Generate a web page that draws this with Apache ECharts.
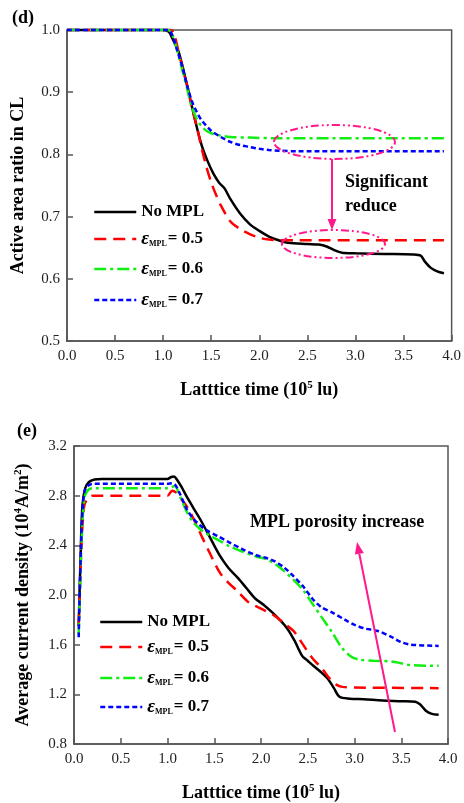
<!DOCTYPE html>
<html>
<head>
<meta charset="utf-8">
<script src="https://cdn.jsdelivr.net/npm/echarts@6/dist/echarts.min.js"></script>
<style>html,body{margin:0;padding:0;background:#fff;}#c{width:464px;height:803px;}</style>
</head>
<body>
<div id="c"></div>
<script>
// ---------- DATA ----------
var seriesNames = ['No MPL', 'e0.5', 'e0.6', 'e0.7'];
var xTicks = [0, 0.5, 1, 1.5, 2, 2.5, 3, 3.5, 4];
var dYTicks = [0.5, 0.6, 0.7, 0.8, 0.9, 1.0];
var eYTicks = [0.8, 1.2, 1.6, 2.0, 2.4, 2.8, 3.2];

// Panel (d): Active area ratio in CL
var dNoMplX = [0, 1.0, 1.06, 1.1, 1.16, 1.22, 1.28, 1.34, 1.4, 1.46, 1.52, 1.58, 1.64, 1.7, 1.8, 1.9, 2.0, 2.1, 2.2, 2.3, 2.5, 2.62, 2.7, 2.78, 2.86, 3.0, 3.3, 3.6, 3.68, 3.72, 3.78, 3.85, 3.92];
var dNoMplY = [1.0, 1.0, 0.997, 0.985, 0.965, 0.93, 0.89, 0.85, 0.815, 0.79, 0.77, 0.755, 0.745, 0.728, 0.705, 0.688, 0.677, 0.668, 0.662, 0.658, 0.656, 0.655, 0.652, 0.646, 0.642, 0.641, 0.640, 0.639, 0.637, 0.628, 0.618, 0.612, 0.609];
var dE05X = [0, 1.08, 1.12, 1.16, 1.2, 1.25, 1.3, 1.35, 1.4, 1.45, 1.5, 1.55, 1.6, 1.7, 1.8, 1.9, 2.0, 2.1, 2.2, 2.4, 3.92];
var dE05Y = [1.0, 1.0, 0.99, 0.965, 0.94, 0.91, 0.875, 0.845, 0.81, 0.78, 0.755, 0.735, 0.718, 0.692, 0.68, 0.672, 0.666, 0.663, 0.662, 0.662, 0.662];
var dE06X = [0, 1.05, 1.1, 1.15, 1.2, 1.25, 1.3, 1.35, 1.4, 1.45, 1.5, 1.6, 1.7, 1.9, 2.2, 3.92];
var dE06Y = [1.0, 1.0, 0.99, 0.965, 0.935, 0.905, 0.875, 0.857, 0.845, 0.838, 0.834, 0.830, 0.828, 0.827, 0.826, 0.826];
var dE07X = [0, 1.05, 1.1, 1.15, 1.2, 1.25, 1.3, 1.35, 1.4, 1.5, 1.6, 1.7, 1.8, 1.9, 2.0, 2.1, 2.2, 2.4, 3.92];
var dE07Y = [1.0, 1.0, 0.99, 0.965, 0.94, 0.91, 0.885, 0.868, 0.855, 0.838, 0.828, 0.82, 0.815, 0.812, 0.809, 0.807, 0.806, 0.805, 0.805];

// Panel (e): Average current density
var eNoMplX = [0.05, 0.07, 0.09, 0.12, 0.16, 0.22, 0.3, 0.6, 1.0, 1.04, 1.07, 1.1, 1.15, 1.2, 1.27, 1.35, 1.45, 1.55, 1.65, 1.75, 1.85, 1.94, 2.03, 2.12, 2.2, 2.28, 2.36, 2.44, 2.5, 2.56, 2.64, 2.72, 2.78, 2.84, 2.95, 3.1, 3.3, 3.5, 3.65, 3.7, 3.76, 3.82, 3.9];
var eNoMplY = [1.75, 2.3, 2.72, 2.86, 2.91, 2.93, 2.935, 2.935, 2.935, 2.95, 2.955, 2.93, 2.87, 2.8, 2.71, 2.61, 2.47, 2.33, 2.22, 2.14, 2.05, 1.97, 1.92, 1.86, 1.8, 1.73, 1.63, 1.51, 1.47, 1.43, 1.38, 1.32, 1.25, 1.18, 1.165, 1.16, 1.15, 1.145, 1.14, 1.12, 1.07, 1.045, 1.035];
var eE05X = [0.05, 0.08, 0.11, 0.15, 0.2, 0.6, 1.0, 1.05, 1.1, 1.15, 1.21, 1.3, 1.38, 1.47, 1.56, 1.65, 1.75, 1.87, 2.0, 2.15, 2.25, 2.36, 2.45, 2.55, 2.65, 2.73, 2.8, 2.87, 3.0, 3.9];
var eE05Y = [1.75, 2.4, 2.72, 2.78, 2.8, 2.8, 2.8, 2.84, 2.82, 2.77, 2.71, 2.58, 2.45, 2.31, 2.18, 2.1, 2.03, 1.94, 1.89, 1.83, 1.77, 1.70, 1.60, 1.49, 1.41, 1.33, 1.28, 1.26, 1.255, 1.25];
var eE06X = [0.05, 0.08, 0.11, 0.15, 0.2, 0.6, 1.0, 1.05, 1.08, 1.13, 1.2, 1.27, 1.35, 1.45, 1.55, 1.67, 1.8, 1.95, 2.05, 2.15, 2.25, 2.35, 2.45, 2.55, 2.65, 2.76, 2.86, 2.97, 3.05, 3.2, 3.4, 3.5, 3.6, 3.9];
var eE06Y = [1.68, 2.4, 2.78, 2.845, 2.86, 2.86, 2.86, 2.87, 2.88, 2.80, 2.68, 2.59, 2.53, 2.48, 2.44, 2.39, 2.35, 2.31, 2.29, 2.25, 2.19, 2.12, 2.04, 1.93, 1.82, 1.70, 1.58, 1.50, 1.48, 1.47, 1.465, 1.45, 1.435, 1.43];
var eE07X = [0.05, 0.08, 0.11, 0.15, 0.2, 0.6, 1.0, 1.05, 1.08, 1.13, 1.2, 1.27, 1.35, 1.42, 1.55, 1.67, 1.8, 1.95, 2.05, 2.15, 2.25, 2.35, 2.45, 2.55, 2.65, 2.76, 2.9, 3.0, 3.11, 3.25, 3.4, 3.5, 3.6, 3.9];
var eE07Y = [1.66, 2.5, 2.83, 2.88, 2.895, 2.895, 2.895, 2.9, 2.89, 2.82, 2.70, 2.62, 2.56, 2.52, 2.47, 2.42, 2.37, 2.32, 2.30, 2.27, 2.22, 2.15, 2.07, 1.97, 1.90, 1.86, 1.80, 1.76, 1.73, 1.71, 1.66, 1.62, 1.60, 1.59];

// ---------- CHART ----------
function pairs(xs, ys) { return xs.map(function (x, i) { return [x, ys[i]]; }); }
var FONT = 'Liberation Serif';
var AX = '#555';
var styles = [
  { color: '#000000', width: 2.5, type: 'solid' },
  { color: '#ff0000', width: 2.5, type: [12, 7] },
  { color: '#11ee11', width: 2.5, type: [12, 4, 3, 4] },
  { color: '#0000ff', width: 2.5, type: [5, 3] }
];
var dData = [pairs(dNoMplX, dNoMplY), pairs(dE05X, dE05Y), pairs(dE06X, dE06Y), pairs(dE07X, dE07Y)];
var eData = [pairs(eNoMplX, eNoMplY), pairs(eE05X, eE05Y), pairs(eE06X, eE06Y), pairs(eE07X, eE07Y)];

var series = [];
[dData, eData].forEach(function (set, gi) {
  set.forEach(function (d, si) {
    series.push({
      type: 'line', name: seriesNames[si], xAxisIndex: gi, yAxisIndex: gi,
      data: d, showSymbol: false, symbol: 'none', smooth: 0.3, clip: false,
      lineStyle: styles[si], itemStyle: { color: styles[si].color }, z: 2 + si
    });
  });
});

function xAxisCfg(gi, title) {
  return {
    type: 'value', gridIndex: gi, min: 0, max: 4, interval: 0.5,
    axisLine: { show: true, onZero: false, lineStyle: { color: AX, width: 1.5 } },
    axisTick: { show: true, inside: true, length: 6, lineStyle: { color: AX, width: 1.5 } },
    axisLabel: { fontFamily: FONT, fontSize: 15, color: '#222', margin: 8, formatter: function (v) { return v.toFixed(1); } },
    splitLine: { show: false },
    name: title, nameLocation: 'middle', nameGap: 39,
    nameTextStyle: { fontFamily: FONT, fontSize: 18, fontWeight: 'bold', color: '#000',
      rich: { sup: { fontFamily: FONT, fontSize: 11, fontWeight: 'bold', color: '#000', padding: [0, 0, 9, 0] },
              t: { fontFamily: FONT, fontSize: 18, fontWeight: 'bold', color: '#000' } } }
  };
}
function yAxisCfg(gi, min, max, itv, title, gap) {
  return {
    type: 'value', gridIndex: gi, min: min, max: max, interval: itv,
    axisLine: { show: true, onZero: false, lineStyle: { color: AX, width: 1.5 } },
    axisTick: { show: true, inside: true, length: 6, lineStyle: { color: AX, width: 1.5 } },
    axisLabel: { fontFamily: FONT, fontSize: 15, color: '#222', margin: 7, formatter: function (v) { return v.toFixed(1); } },
    splitLine: { show: false },
    name: title, nameLocation: 'middle', nameGap: gap, nameRotate: 90,
    nameTextStyle: { fontFamily: FONT, fontSize: 18, fontWeight: 'bold', color: '#000',
      rich: { sup: { fontFamily: FONT, fontSize: 11, fontWeight: 'bold', color: '#000', padding: [0, 0, 9, 0] },
              t: { fontFamily: FONT, fontSize: 18, fontWeight: 'bold', color: '#000' } } }
  };
}

var legendRich = {
  b: { fontFamily: FONT, fontSize: 17, fontWeight: 'bold', color: '#000' },
  e: { fontFamily: FONT, fontSize: 19, fontStyle: 'italic', fontWeight: 'bold', color: '#000' },
  s: { fontFamily: FONT, fontSize: 8, fontWeight: 'bold', color: '#000', padding: [9, 1, 0, 0] }
};
function legendFmt(n) {
  if (n === 'No MPL') return '{b|No MPL}';
  return '{e|ε}{s|MPL}{b|= ' + n.slice(1) + '}';
}
var legends = [];
var dRows = [212, 239, 269, 300], eRows = [622, 647, 678, 707];
[[93, dRows], [99, eRows]].forEach(function (cfg) {
  seriesNames.forEach(function (n, i) {
    legends.push({
      left: cfg[0], top: cfg[1][i] - 11, orient: 'vertical', padding: 0,
      itemWidth: 42, itemHeight: 14, itemGap: 0,
      data: [n], formatter: legendFmt, selectedMode: false,
      itemStyle: { opacity: 0 },
      lineStyle: { width: 2.5 },
      textStyle: { rich: legendRich, lineHeight: 22 }
    });
  });
});

var PINK = '#ff1a8c';
var graphic = [
  { type: 'text', left: 12, top: 9, style: { text: '(d)', font: 'bold 18px "Liberation Serif"', fill: '#000' } },
  { type: 'text', left: 17, top: 422, style: { text: '(e)', font: 'bold 18px "Liberation Serif"', fill: '#000' } },
  { type: 'ellipse', shape: { cx: 334.5, cy: 142, rx: 60.5, ry: 17 }, style: { fill: 'none', stroke: PINK, lineWidth: 2, lineDash: [8, 3, 2, 3, 2, 3] }, z: 10 },
  { type: 'ellipse', shape: { cx: 333.5, cy: 244, rx: 51.5, ry: 14 }, style: { fill: 'none', stroke: PINK, lineWidth: 2, lineDash: [8, 3, 2, 3, 2, 3] }, z: 10 },
  { type: 'line', shape: { x1: 332, y1: 159, x2: 332, y2: 222 }, style: { stroke: PINK, lineWidth: 2 }, z: 10 },
  { type: 'polygon', shape: { points: [[332, 230], [327.5, 219], [336.5, 219]] }, style: { fill: PINK }, z: 10 },
  { type: 'text', left: 345, top: 173, style: { text: 'Significant', font: 'bold 18px "Liberation Serif"', fill: '#000' }, z: 10 },
  { type: 'text', left: 345, top: 197, style: { text: 'reduce', font: 'bold 18px "Liberation Serif"', fill: '#000' }, z: 10 },
  { type: 'text', left: 250, top: 513, style: { text: 'MPL porosity increase', font: 'bold 18px "Liberation Serif"', fill: '#000' }, z: 10 },
  { type: 'line', shape: { x1: 395, y1: 732, x2: 359.3, y2: 553.8 }, style: { stroke: PINK, lineWidth: 2 }, z: 10 },
  { type: 'polygon', shape: { points: [[357, 542], [363.8, 552.9], [354.9, 554.6]] }, style: { fill: PINK }, z: 10 }
];

var chart = echarts.init(document.getElementById('c'), null, { renderer: 'canvas' });
chart.setOption({
  animation: false,
  backgroundColor: '#fff',
  grid: [
    { left: 67, top: 30, width: 388, height: 311, show: true, borderColor: AX, borderWidth: 1.5, backgroundColor: 'transparent' },
    { left: 74, top: 446, width: 374, height: 300, show: true, borderColor: AX, borderWidth: 1.5, backgroundColor: 'transparent' }
  ],
  xAxis: [
    xAxisCfg(0, '{t|Latttice time (10}{sup|5}{t| lu)}'),
    xAxisCfg(1, '{t|Latttice time (10}{sup|5}{t| lu)}')
  ],
  yAxis: [
    yAxisCfg(0, 0.5, 1.0, 0.1, 'Active area ratio in CL', 40),
    yAxisCfg(1, 0.8, 3.2, 0.4, '{t|Average current density (10}{sup|4}{t|A/m}{sup|2}{t|)}', 41)
  ],
  legend: legends,
  series: series,
  graphic: graphic
});
</script>
</body>
</html>
